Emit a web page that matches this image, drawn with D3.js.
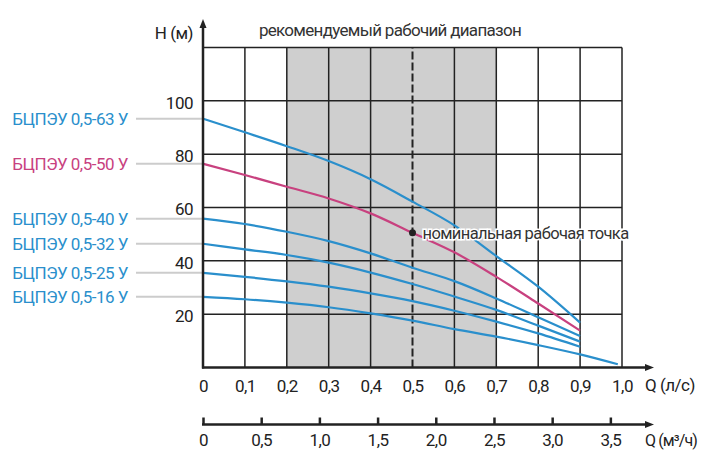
<!DOCTYPE html>
<html><head><meta charset="utf-8">
<script src="https://cdn.jsdelivr.net/npm/d3@7"></script>
<style>
html,body{margin:0;padding:0;background:#fff;}
text{font-family:Roboto,"Noto Sans",sans-serif;letter-spacing:-0.5px;}
</style></head>
<body><svg id="c" width="707" height="464"></svg>
<script>
// ---- data ----
const flowLs = [0, 0.1, 0.2, 0.3, 0.4, 0.5, 0.6, 0.7, 0.8, 0.9];
const flowLs16 = [0, 0.1, 0.2, 0.3, 0.4, 0.5, 0.6, 0.7, 0.8, 0.9, 0.99];
const seriesNames = ["БЦПЭУ 0,5-63 У", "БЦПЭУ 0,5-50 У", "БЦПЭУ 0,5-40 У", "БЦПЭУ 0,5-32 У", "БЦПЭУ 0,5-25 У", "БЦПЭУ 0,5-16 У"];
const head63 = [93.3, 88.2, 83.0, 77.4, 70.6, 62.2, 53.3, 41.8, 30.3, 16.8];
const head50 = [76.4, 72.2, 67.8, 63.4, 57.8, 50.5, 43.2, 34.0, 24.0, 13.8];
const head40 = [55.8, 53.8, 50.9, 47.4, 42.8, 37.4, 32.4, 25.9, 18.8, 11.8];
const head32 = [46.4, 44.3, 42.2, 39.3, 35.6, 31.3, 26.6, 21.6, 15.7, 9.7];
const head25 = [35.5, 34.0, 32.3, 30.3, 27.8, 24.9, 21.3, 17.2, 12.8, 7.8];
const head16 = [26.5, 25.6, 24.3, 22.6, 20.3, 17.6, 14.4, 11.6, 8.4, 4.9, 1.2];
const xTicksLs = [0, 0.1, 0.2, 0.3, 0.4, 0.5, 0.6, 0.7, 0.8, 0.9, 1.0];
const xTicksM3h = [0, 0.5, 1.0, 1.5, 2.0, 2.5, 3.0, 3.5];
const yTicks = [20, 40, 60, 80, 100];
const yGrid = [20, 40, 60, 80, 100, 120];
const rangeLs = [0.2, 0.7];
const nominal = {q: 0.5, h: 50.5};
const texts = {
  yTitle: "H (м)",
  xTitle1: "Q (л/с)",
  xTitle2: "Q (м³/ч)",
  range: "рекомендуемый рабочий диапазон",
  nominal: "номинальная рабочая точка"
};

// ---- layout ----
const BLUE = "#2a8fcc", PINK = "#c8417f", DARK = "#222";
const svg = d3.select("#c");
const x = d3.scaleLinear().domain([0, 1.0]).range([203, 622]);
const xm = d3.scaleLinear().domain([0, 3.6]).range([203, 622]);
const y = d3.scaleLinear().domain([0, 120]).range([367.5, 47.5]);
const fmt = v => v === 0 ? "0" : d3.format(".1f")(v).replace(".", ",");

// recommended band
svg.append("rect")
  .attr("x", x(rangeLs[0])).attr("y", y(120))
  .attr("width", x(rangeLs[1]) - x(rangeLs[0]))
  .attr("height", y(0) - y(120))
  .attr("fill", "#cfcfcf");

// grid
const g = svg.append("g").attr("stroke", DARK).attr("stroke-width", 1.5);
g.selectAll("line.v").data(xTicksLs.filter(d => d > 0 && d !== 0.5)).join("line")
  .attr("x1", d => x(d)).attr("x2", d => x(d)).attr("y1", y(0)).attr("y2", y(120));
g.selectAll("line.h").data(yGrid).join("line")
  .attr("x1", x(0)).attr("x2", x(1.0)).attr("y1", d => y(d)).attr("y2", d => y(d));

// dashed nominal line
svg.append("line").attr("x1", x(0.5)).attr("x2", x(0.5)).attr("y1", y(0)).attr("y2", y(120))
  .attr("stroke", DARK).attr("stroke-width", 2).attr("stroke-dasharray", "8,3");

// leader lines + labels
const heads = [head63, head50, head40, head32, head25, head16];
const colors = [BLUE, PINK, BLUE, BLUE, BLUE, BLUE];
heads.forEach((h, i) => {
  svg.append("line").attr("x1", 136).attr("x2", x(0)).attr("y1", y(h[0])).attr("y2", y(h[0]))
    .attr("stroke", "#cccccc").attr("stroke-width", 2);
  svg.append("text").attr("x", 128).attr("y", y(h[0])).attr("dy", "0.35em")
    .attr("text-anchor", "end").attr("fill", colors[i]).attr("font-size", 17)
    .text(seriesNames[i]);
});

// curves
const line = d3.line().x(d => x(d[0])).y(d => y(d[1])).curve(d3.curveMonotoneX);
heads.forEach((h, i) => {
  const qs = i === 5 ? flowLs16 : flowLs;
  svg.append("path").datum(qs.map((q, j) => [q, h[j]]))
    .attr("d", line).attr("fill", "none").attr("stroke", colors[i]).attr("stroke-width", 2.2);
});

// nominal point
svg.append("circle").attr("cx", x(nominal.q)).attr("cy", y(nominal.h)).attr("r", 3.5).attr("fill", DARK);
svg.append("text").attr("x", x(nominal.q) + 10).attr("y", y(nominal.h)).attr("dy", "0.35em")
  .attr("font-size", 16.5).attr("fill", "#333").style("letter-spacing", "-0.6px")
  .attr("stroke", "#fff").attr("stroke-width", 3).attr("paint-order", "stroke")
  .text(texts.nominal);

// title
svg.append("text").attr("x", 390).attr("y", 30).attr("dy", "0.35em").attr("text-anchor", "middle")
  .attr("font-size", 17).attr("fill", "#333").style("letter-spacing", "-0.7px").text(texts.range);

// axes
function arrowH(x0, x1, yy) {
  svg.append("line").attr("x1", x0).attr("x2", x1 - 4).attr("y1", yy).attr("y2", yy)
    .attr("stroke", DARK).attr("stroke-width", 2.5);
  svg.append("path").attr("d", `M${x1},${yy} L${x1 - 9},${yy - 3.5} L${x1 - 9},${yy + 3.5} Z`).attr("fill", DARK);
}
// y axis
svg.append("line").attr("x1", x(0)).attr("x2", x(0)).attr("y1", y(0) + 1).attr("y2", 24)
  .attr("stroke", DARK).attr("stroke-width", 2.5);
svg.append("path").attr("d", `M${x(0)},19 L${x(0) - 3.5},28 L${x(0) + 3.5},28 Z`).attr("fill", DARK);
svg.append("text").attr("x", 193).attr("y", 33).attr("dy", "0.35em").attr("text-anchor", "end")
  .attr("font-size", 17).attr("fill", "#222").text(texts.yTitle);

const yAx = d3.axisLeft(y).tickValues(yTicks).tickSize(0).tickPadding(10).tickFormat(d3.format("d"));
const ya = svg.append("g").attr("transform", `translate(${x(0)},2)`).call(yAx);
ya.select(".domain").remove();
ya.selectAll("text").attr("font-size", 17).attr("fill", "#222").style("font-family", "Roboto");

// x axis (l/s)
arrowH(x(0) - 1, 654, y(0));
const xAx = d3.axisBottom(x).tickValues(xTicksLs).tickSize(0).tickPadding(12).tickFormat(fmt);
const xa = svg.append("g").attr("transform", `translate(0,${y(0)})`).call(xAx);
xa.select(".domain").remove();
xa.selectAll("text").attr("font-size", 17).attr("fill", "#222").style("font-family", "Roboto");
svg.append("text").attr("x", 645).attr("y", 385).attr("dy", "0.35em")
  .attr("font-size", 17).attr("fill", "#222").text(texts.xTitle1);

// x axis (m3/h)
const y2 = 424.5;
arrowH(x(0) - 1, 654, y2);
const xAx2 = d3.axisBottom(xm).tickValues(xTicksM3h).tickSizeInner(-7).tickSizeOuter(0).tickPadding(9).tickFormat(fmt);
const xb = svg.append("g").attr("transform", `translate(0,${y2})`).call(xAx2);
xb.select(".domain").remove();
xb.selectAll("line").attr("stroke", DARK).attr("stroke-width", 2.5);
xb.selectAll("text").attr("font-size", 17).attr("fill", "#222").style("font-family", "Roboto");
svg.append("text").attr("x", 645).attr("y", 440).attr("dy", "0.35em")
  .attr("font-size", 16).attr("fill", "#222").style("letter-spacing", "-0.9px").text(texts.xTitle2);
</script>
</body></html>
